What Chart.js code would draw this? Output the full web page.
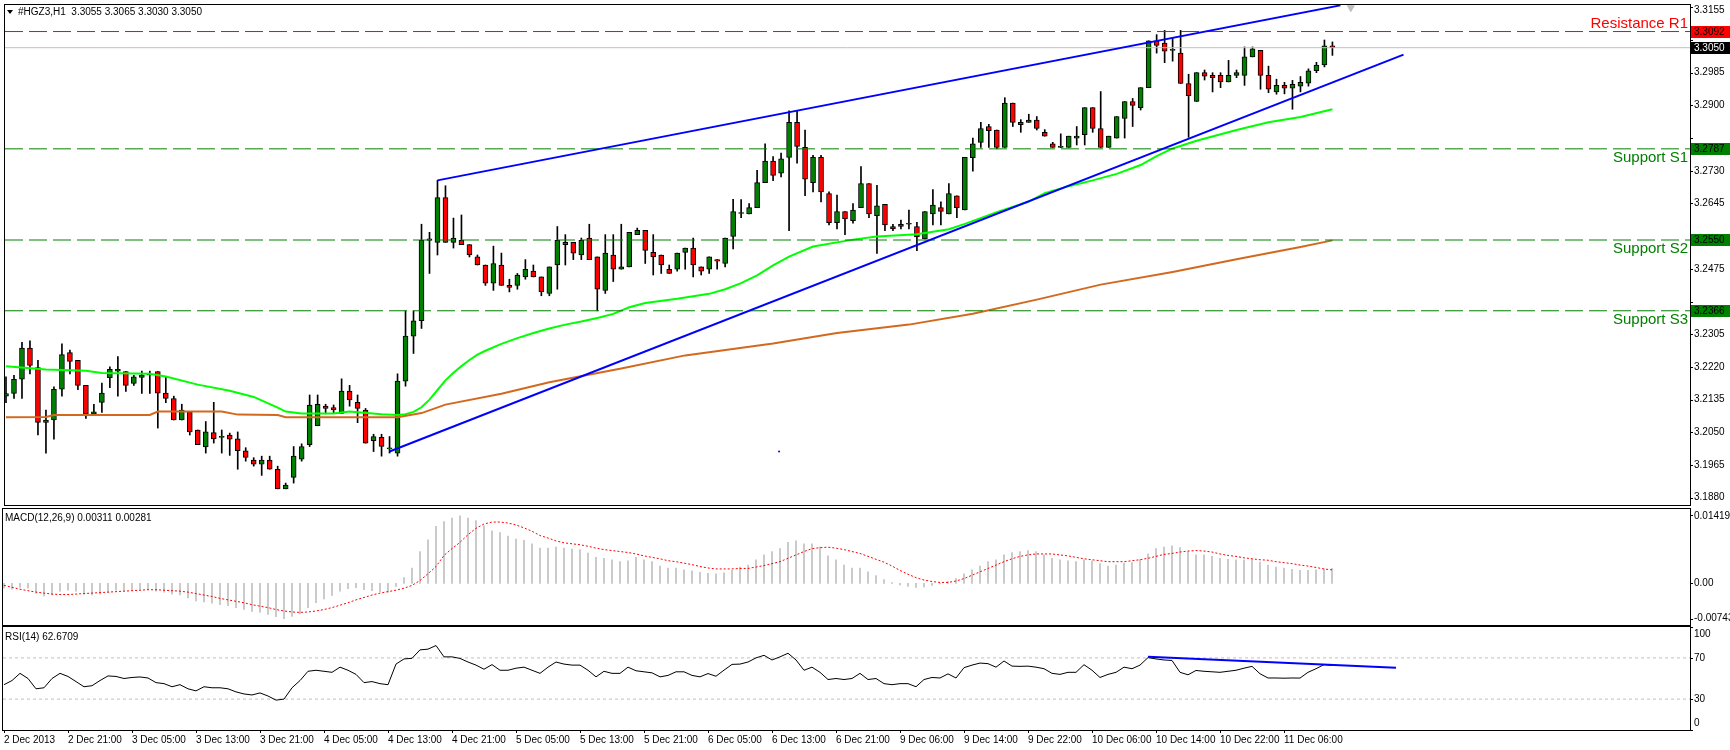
<!DOCTYPE html>
<html lang="en">
<head>
<meta charset="UTF-8">
<title>#HGZ3,H1</title>
<script src="https://cdn.jsdelivr.net/npm/chart.js@4.4.1/dist/chart.umd.min.js"></script>
<style>
  html, body { margin: 0; padding: 0; background: #fff; }
  #wrap { position: relative; width: 1730px; height: 750px; overflow: hidden; background: #fff; }
  canvas { position: absolute; left: 0; }
</style>
</head>
<body>
<div id="wrap">
  <canvas id="priceChart" width="1730" height="510" style="top:0"></canvas>
  <canvas id="macdChart" width="1730" height="120" style="top:507px"></canvas>
  <canvas id="rsiChart" width="1730" height="125" style="top:625px"></canvas>
</div>
<script>
// hourly bars of #HGZ3 (index 0 = 2 Dec 13:00)
const opens = [3.2144,3.2151,3.2188,3.2269,3.2218,3.2076,3.2082,3.2162,3.2257,3.2237,3.2172,3.2098,3.2128,3.2192,3.2209,3.2208,3.2177,3.2193,3.2199,3.2208,
  3.2152,3.2138,3.2082,3.2103,3.2056,3.2012,3.2049,3.2037,3.2043,3.2033,3.2002,3.1978,3.1967,3.1978,3.1954,3.1903,3.1933,3.1980,3.2018,3.2067,
  3.2118,3.2114,3.2099,3.2157,3.2128,3.2108,3.2028,3.2037,3.2007,3.1996,3.2183,3.2300,3.2340,3.2549,3.2544,3.2660,3.2544,3.2549,3.2538,3.2506,
  3.2485,3.2438,3.2485,3.2432,3.2432,3.2454,3.2469,3.2454,3.2411,3.2485,3.2544,3.2544,3.2511,3.2555,3.2506,3.2419,3.2511,3.2474,3.2480,3.2564,
  3.2575,3.2518,3.2511,3.2474,3.2474,3.2518,3.2529,3.2480,3.2474,3.2499,3.2489,3.2559,3.2619,3.2618,3.2634,3.2699,3.2755,3.2724,3.2765,3.2856,
  3.2791,3.2699,3.2765,3.2671,3.2595,3.2624,3.2600,3.2634,3.2697,3.2613,3.2643,3.2585,3.2585,3.2591,3.2585,3.2553,3.2618,3.2634,3.2618,3.2665,
  3.2628,3.2764,3.2804,3.2845,3.2836,3.2791,3.2906,3.2856,3.2856,3.2862,3.2830,3.2800,3.2791,3.2791,3.2815,3.2824,3.2894,3.2840,3.2791,3.2815,
  3.2866,3.2910,3.2894,3.2946,3.3068,3.3062,3.3043,3.3036,3.2957,3.2910,3.2985,3.2978,3.2978,3.2961,3.2978,3.2978,3.3026,3.3043,3.2978,3.2935,
  3.2952,3.2945,3.2950,3.2958,3.2990,3.3005,3.3055];
const highs = [3.2194,3.2198,3.2284,3.2288,3.2237,3.2108,3.2168,3.2280,3.2264,3.2237,3.2172,3.2123,3.2178,3.2220,3.2247,3.2208,3.2198,3.2209,3.2209,3.2208,
  3.2194,3.2144,3.2123,3.2103,3.2056,3.2078,3.2128,3.2056,3.2048,3.2051,3.2010,3.1984,3.1988,3.1988,3.1962,3.1918,3.2013,3.2020,3.2147,3.2147,
  3.2123,3.2121,3.2189,3.2172,3.2147,3.2112,3.2045,3.2045,3.2039,3.2202,3.2366,3.2366,3.2591,3.2570,3.2705,3.2691,3.2607,3.2615,3.2538,3.2511,
  3.2485,3.2534,3.2516,3.2448,3.2463,3.2499,3.2485,3.2454,3.2480,3.2585,3.2564,3.2544,3.2555,3.2591,3.2506,3.2564,3.2564,3.2591,3.2570,3.2581,
  3.2575,3.2564,3.2511,3.2485,3.2516,3.2529,3.2555,3.2480,3.2506,3.2499,3.2555,3.2656,3.2655,3.2645,3.2731,3.2800,3.2767,3.2776,3.2886,3.2886,
  3.2836,3.2770,3.2770,3.2675,3.2667,3.2624,3.2645,3.2741,3.2697,3.2692,3.2643,3.2591,3.2602,3.2628,3.2596,3.2624,3.2681,3.2649,3.2697,3.2665,
  3.2765,3.2815,3.2856,3.2851,3.2836,3.2920,3.2906,3.2863,3.2877,3.2871,3.2837,3.2804,3.2826,3.2820,3.2845,3.2894,3.2894,3.2936,3.2820,3.2871,
  3.2910,3.2918,3.2946,3.3068,3.3084,3.3095,3.3075,3.3095,3.2981,3.2985,3.2992,3.2985,3.2985,3.3017,3.2992,3.3052,3.3052,3.3043,3.3002,3.2968,
  3.2960,3.2965,3.2975,3.2995,3.3012,3.3070,3.3065];
const lows = [3.2127,3.2138,3.2138,3.2202,3.2043,3.1996,3.2032,3.2144,3.2202,3.2161,3.2086,3.2098,3.2102,3.2166,3.2144,3.2156,3.2172,3.2151,3.2151,3.2061,
  3.2127,3.2082,3.2082,3.2043,3.2018,3.1996,3.2022,3.1996,3.1990,3.1954,3.1975,3.1962,3.1938,3.1954,3.1903,3.1903,3.1918,3.1975,3.2013,3.2067,
  3.2098,3.2099,3.2099,3.2118,3.2075,3.2022,3.2000,3.1988,3.1996,3.1988,3.2170,3.2255,3.2320,3.2463,3.2511,3.2544,3.2529,3.2538,3.2506,3.2485,
  3.2432,3.2419,3.2432,3.2415,3.2422,3.2448,3.2454,3.2405,3.2405,3.2422,3.2485,3.2499,3.2499,3.2499,3.2366,3.2411,3.2442,3.2474,3.2480,3.2564,
  3.2489,3.2459,3.2463,3.2463,3.2469,3.2474,3.2454,3.2459,3.2463,3.2474,3.2480,3.2527,3.2608,3.2618,3.2634,3.2699,3.2704,3.2714,3.2574,3.2750,
  3.2665,3.2675,3.2649,3.2589,3.2579,3.2564,3.2594,3.2634,3.2608,3.2515,3.2574,3.2574,3.2579,3.2579,3.2522,3.2553,3.2589,3.2589,3.2618,3.2608,
  3.2628,3.2729,3.2791,3.2791,3.2787,3.2791,3.2845,3.2830,3.2856,3.2836,3.2820,3.2791,3.2790,3.2791,3.2797,3.2797,3.2830,3.2791,3.2791,3.2815,
  3.2815,3.2845,3.2888,3.2946,3.3036,3.3011,3.3015,3.2957,3.2817,3.2910,3.2966,3.2935,3.2946,3.2961,3.2972,3.2952,3.3026,3.2942,3.2933,3.2929,
  3.2930,3.2890,3.2935,3.2950,3.2985,3.3000,3.3030];
const closes = [3.2151,3.2188,3.2269,3.2224,3.2076,3.2082,3.2162,3.2252,3.2234,3.2172,3.2098,3.2103,3.2152,3.2214,3.2214,3.2172,3.2194,3.2199,3.2200,3.2152,
  3.2138,3.2082,3.2108,3.2051,3.2018,3.2051,3.2033,3.2038,3.2032,3.2002,3.1985,3.1967,3.1978,3.1954,3.1903,3.1913,3.1988,3.2013,3.2121,3.2123,
  3.2112,3.2108,3.2157,3.2134,3.2112,3.2022,3.2039,3.2013,3.2008,3.2183,3.2300,3.2340,3.2549,3.2553,3.2660,3.2544,3.2555,3.2538,3.2511,3.2485,
  3.2438,3.2489,3.2432,3.2427,3.2459,3.2474,3.2454,3.2415,3.2480,3.2549,3.2538,3.2516,3.2549,3.2499,3.2422,3.2516,3.2474,3.2480,3.2570,3.2575,
  3.2523,3.2506,3.2485,3.2463,3.2516,3.2529,3.2485,3.2469,3.2506,3.2495,3.2555,3.2624,3.2620,3.2634,3.2699,3.2755,3.2718,3.2761,3.2856,3.2793,
  3.2708,3.2765,3.2675,3.2595,3.2624,3.2605,3.2628,3.2697,3.2618,3.2639,3.2589,3.2579,3.2591,3.2592,3.2558,3.2624,3.2641,3.2624,3.2671,3.2634,
  3.2765,3.2800,3.2840,3.2834,3.2791,3.2906,3.2856,3.2850,3.2862,3.2840,3.2820,3.2791,3.2792,3.2820,3.2820,3.2894,3.2840,3.2791,3.2820,3.2871,
  3.2910,3.2900,3.2946,3.3068,3.3056,3.3041,3.3044,3.2957,3.2925,3.2985,3.2976,3.2972,3.2961,3.2978,3.2985,3.3026,3.3047,3.2978,3.2942,3.2952,
  3.2945,3.2955,3.2960,3.2990,3.3005,3.3055,3.3050];

// moving averages read at sampled bars: [bar, value]
const fastMA = [[0,3.2222],[5,3.2213],[10,3.2210],[12,3.2204],[18,3.2202],[20,3.2195],[24,3.2174],[28,3.2158],[31,3.2142],[34,3.2114],[35,3.2104],
  [37,3.2099],[41,3.2099],[43,3.2104],[47,3.2097],[49,3.2095],[50,3.2097],[51,3.2103],[52,3.2115],[53,3.2135],[54,3.2160],[55,3.2185],[56,3.2205],
  [57,3.2222],[58,3.2238],[59,3.2252],[60,3.2262],[62,3.2280],[64,3.2295],[66,3.2308],[68,3.2320],[70,3.2330],[72,3.2338],[74,3.2347],[76,3.2358],
  [78,3.2375],[80,3.2386],[84,3.2397],[88,3.2410],[90,3.2422],[92,3.2438],[94,3.2458],[96,3.2484],[98,3.2507],[101,3.2533],[106,3.2551],[109,3.2559],
  [114,3.2565],[118,3.2578],[120,3.2592],[124,3.2622],[128,3.2650],[130,3.2672],[133,3.2690],[136,3.2705],[139,3.2722],[142,3.2745],[144,3.2768],
  [146,3.2788],[149,3.2808],[154,3.2836],[158,3.2856],[162,3.2870],[166,3.2890]];
const slowMA = [[0,3.2089],[5,3.2090],[6,3.2095],[18,3.2095],[19,3.2104],[27,3.2104],[29,3.2096],[34,3.2095],[35,3.2089],[49,3.2089],[52,3.2100],
  [55,3.2122],[62,3.2150],[68,3.2180],[77,3.2216],[85,3.2250],[96,3.2281],[104,3.2308],[113,3.2330],[121,3.2358],[129,3.2395],[137,3.2434],
  [146,3.2467],[154,3.2500],[162,3.2532],[166,3.2549]];

// drawn objects
const upperTrend = [[54,3.2705],[167,3.3160]];
const lowerTrend = [[48,3.2000],[174.9,3.3032]];
const rsiTrend = [[143,71],[174,60.5]];
const strayDot = [[96.75,3.2000]];
const shiftMark = [[168.3,3.3154]];
const levels = [
  { name: 'Resistance R1', value: 3.3092, color: '#FF0000', above: true },
  { name: 'Support S1', value: 3.2787, color: '#008000', above: false },
  { name: 'Support S2', value: 3.2550, color: '#008000', above: false },
  { name: 'Support S3', value: 3.2366, color: '#008000', above: false }
];
const bidPrice = 3.3050;

// MACD(12,26,9)
const macdMain = [-0.0010,-0.0012,-0.0008,-0.0010,-0.0020,-0.0026,-0.0024,-0.0016,-0.0014,-0.0016,-0.0022,-0.0024,-0.0022,-0.0018,-0.0014,-0.0015,-0.0013,-0.0012,-0.0012,-0.0016,
  -0.0018,-0.0022,-0.0024,-0.0030,-0.0036,-0.0038,-0.0041,-0.0044,-0.0046,-0.0050,-0.0054,-0.0058,-0.0060,-0.0064,-0.0069,-0.0073,-0.0068,-0.0063,-0.0050,-0.0040,
  -0.0032,-0.0025,-0.0016,-0.0011,-0.0009,-0.0013,-0.0015,-0.0017,-0.0018,-0.0006,0.0012,0.0032,0.0066,0.0090,0.0118,0.0128,0.0135,0.0140,0.0135,0.0130,
  0.0119,0.0109,0.0105,0.0098,0.0092,0.0089,0.0082,0.0073,0.0073,0.0075,0.0073,0.0071,0.0070,0.0063,0.0054,0.0052,0.0049,0.0045,0.0047,0.0054,
  0.0049,0.0045,0.0036,0.0032,0.0032,0.0028,0.0026,0.0023,0.0021,0.0020,0.0022,0.0027,0.0034,0.0038,0.0049,0.0059,0.0066,0.0072,0.0085,0.0088,
  0.0082,0.0082,0.0075,0.0057,0.0049,0.0038,0.0032,0.0032,0.0024,0.0016,0.0008,0.0002,-0.0003,-0.0006,-0.0008,-0.0007,-0.0004,-0.0001,0.0004,0.0010,
  0.0020,0.0028,0.0036,0.0045,0.0049,0.0059,0.0064,0.0066,0.0068,0.0066,0.0059,0.0052,0.0049,0.0047,0.0045,0.0049,0.0047,0.0041,0.0036,0.0038,
  0.0042,0.0043,0.0049,0.0061,0.0072,0.0075,0.0078,0.0074,0.0066,0.0059,0.0059,0.0056,0.0052,0.0050,0.0049,0.0049,0.0050,0.0044,0.0038,0.0034,
  0.0032,0.0029,0.0027,0.0027,0.0028,0.0030,0.0031];
const macdSignal = [-0.0004,-0.0008,-0.0012,-0.0015,-0.0018,-0.0020,-0.0022,-0.0023,-0.0023,-0.0022,-0.0021,-0.0020,-0.0019,-0.0018,-0.0017,-0.0016,-0.0015,-0.0014,-0.0013,-0.0013,
  -0.0014,-0.0015,-0.0016,-0.0018,-0.0021,-0.0024,-0.0027,-0.0031,-0.0034,-0.0037,-0.0040,-0.0044,-0.0047,-0.0050,-0.0054,-0.0057,-0.0059,-0.0060,-0.0059,-0.0057,
  -0.0054,-0.0050,-0.0045,-0.0040,-0.0034,-0.0029,-0.0024,-0.0020,-0.0017,-0.0014,-0.0010,-0.0004,0.0006,0.0020,0.0035,0.0058,0.0072,0.0085,0.0101,0.0114,
  0.0123,0.0127,0.0127,0.0125,0.0121,0.0115,0.0108,0.0099,0.0094,0.0088,0.0084,0.0082,0.0080,0.0077,0.0073,0.0070,0.0068,0.0066,0.0064,0.0061,
  0.0057,0.0054,0.0051,0.0047,0.0045,0.0042,0.0039,0.0035,0.0032,0.0030,0.0030,0.0030,0.0031,0.0031,0.0034,0.0037,0.0041,0.0045,0.0052,0.0059,
  0.0066,0.0072,0.0074,0.0075,0.0073,0.0070,0.0066,0.0062,0.0056,0.0050,0.0044,0.0036,0.0027,0.0019,0.0012,0.0007,0.0004,0.0002,0.0002,0.0005,
  0.0010,0.0017,0.0024,0.0031,0.0038,0.0045,0.0051,0.0056,0.0059,0.0061,0.0061,0.0061,0.0059,0.0057,0.0054,0.0051,0.0049,0.0047,0.0045,0.0045,
  0.0045,0.0047,0.0049,0.0052,0.0056,0.0060,0.0062,0.0065,0.0067,0.0068,0.0067,0.0065,0.0061,0.0058,0.0056,0.0053,0.0051,0.0049,0.0048,0.0045,
  0.0043,0.0041,0.0038,0.0036,0.0033,0.0030,0.0028];

// RSI(14)
const rsiValues = [44,48,55,50,40,41,50,55,52,47,42,43,48,52.5,52,50,51,51.5,50.5,46,
  45,42,44,40,38,42,41,41,40,37,35,34,36,33,29,30,41,48,57,58,
  57,56,61,58,54,46,47,45,44,64,69,69.6,77.8,78.5,82,71,71,69.5,66,63,
  59,63.5,58,58,60,61,58,55,61,66,64,63,63,58,51.6,57,55,55,61,57.5,
  56.5,55.5,51.6,53,56.5,56.5,53,51.6,54.8,52.2,58.1,63.7,64,66,70,72.5,68,71,74.5,68,
  58,61,56,49,50,49,50,55,49,50,45,44,45,45,42,49,51,50.5,54.5,50.5,
  60.5,63,65,64.4,61,67,62,61.8,62,61,59.5,55,54,56,56,63.4,58,51,54,56,
  61,59.5,63,70.3,69,68,67.5,56,53.6,57.8,57,56.5,56,57,58,60,61.8,54.6,50.5,50.5,
  50.3,50.5,50.4,56,59.5,63.5,62.67];

// axis labels
const priceTicks = [3.3155,3.3070,3.2985,3.2900,3.2815,3.2730,3.2645,3.2560,3.2475,3.2390,3.2305,3.2220,3.2135,3.2050,3.1965,3.1880];
const macdTicks = [0.01419, 0, -0.00743];
const macdTickText = ['0.01419', '0.00', '-0.00743'];
const rsiTicks = [100, 70, 30, 0];
const dateBars = [0,8,16,24,32,40,48,56,64,72,80,88,96,104,112,120,128,136,144,152,160];
const dateLabels = ['2 Dec 2013','2 Dec 21:00','3 Dec 05:00','3 Dec 13:00','3 Dec 21:00','4 Dec 05:00','4 Dec 13:00','4 Dec 21:00',
  '5 Dec 05:00','5 Dec 13:00','5 Dec 21:00','6 Dec 05:00','6 Dec 13:00','6 Dec 21:00','9 Dec 06:00','9 Dec 14:00','9 Dec 22:00',
  '10 Dec 06:00','10 Dec 14:00','10 Dec 22:00','11 Dec 06:00'];

const X_MIN = -0.125, X_MAX = 210.75;
const SMALL = '10px "Liberation Sans", Arial, sans-serif';

// frame, right-hand price scale, boxed prices and captions (MT4 look)
const mtPanel = {
  id: 'mtPanel',
  afterDatasetsDraw(chart, args, o) {
    const { ctx, chartArea: a } = chart;
    const y = chart.scales.y;
    ctx.save();
    ctx.strokeStyle = '#000';
    ctx.lineWidth = 1;
    ctx.strokeRect(a.left - 0.5, a.top - 0.5, a.right - a.left + 1, a.bottom - a.top + 1);
    ctx.font = SMALL;
    ctx.textBaseline = 'middle';
    ctx.textAlign = 'left';
    const m = o.margin || 6;
    const boxes = o.boxes || [];
    const boxY = boxes.map(b => y.getPixelForValue(b.value));
    (o.ticks || []).forEach(t => {
      const py = y.getPixelForValue(t.value);
      ctx.fillStyle = '#000';
      ctx.fillRect(a.right, Math.round(py), 3, 1);
      // a boxed price hides the scale label under it
      if (boxY.some(by => Math.abs(by - py) < 11)) return;
      ctx.fillText(t.text, a.right + 4, Math.min(Math.max(py, a.top + m), a.bottom - m));
    });
    boxes.forEach((b, i) => {
      const py = Math.round(boxY[i]);
      ctx.fillStyle = b.bg;
      ctx.fillRect(a.right + 1, py - 6, 39, 12);
      ctx.fillStyle = b.fg;
      ctx.fillText(b.text, a.right + 4, py);
    });
    (o.captions || []).forEach(c => {
      ctx.font = '15px "Liberation Sans", Arial, sans-serif';
      ctx.textAlign = 'right';
      ctx.fillStyle = c.color;
      const py = y.getPixelForValue(c.value) + (c.above ? -8 : 9);
      ctx.fillText(c.text, a.right - 2, py);
    });
    if (o.title) {
      ctx.font = SMALL;
      ctx.textAlign = 'left';
      ctx.fillStyle = '#000';
      if (o.arrow) {
        ctx.beginPath();
        ctx.moveTo(7, o.title.y - 2); ctx.lineTo(13, o.title.y - 2); ctx.lineTo(10, o.title.y + 2);
        ctx.closePath(); ctx.fill();
      }
      ctx.fillText(o.title.text, o.title.x, o.title.y);
    }
    ctx.restore();
  }
};

const pts = arr => arr.map(p => ({ x: p[0], y: p[1] }));
const flat = v => [{ x: X_MIN, y: v }, { x: X_MAX, y: v }];
const baseOpts = (padding, yMin, yMax, panel) => ({
  responsive: false,
  animation: false,
  devicePixelRatio: 1,
  events: [],
  layout: { padding },
  plugins: { legend: { display: false }, tooltip: { enabled: false }, mtPanel: panel },
  scales: {
    x: { type: 'linear', min: X_MIN, max: X_MAX, display: false, offset: false },
    y: { type: 'linear', min: yMin, max: yMax, display: false }
  }
});
const lineSet = (data, color, width, dash, order) => ({
  type: 'line', data, borderColor: color, borderWidth: width, borderDash: dash || [],
  pointRadius: 0, tension: 0, order: order || 0
});

// ---- price panel ----
const bars = opens.map((o, i) => i);
const priceDatasets = [
  { type: 'bar', data: bars.map(i => ({ x: i, y: [lows[i], highs[i]] })), backgroundColor: '#000',
    barThickness: 1, grouped: false, order: 4 },
  { type: 'bar', data: bars.map(i => ({ x: i, y: [opens[i], closes[i]] })),
    backgroundColor: bars.map(i => closes[i] >= opens[i] ? '#008000' : '#FF0000'),
    borderColor: '#000', borderWidth: 1, borderSkipped: false, minBarLength: 1,
    barThickness: 5, grouped: false, order: 3 },
  lineSet(pts(slowMA), '#D2691E', 2, null, 2),
  lineSet(pts(fastMA), '#00FF00', 2, null, 2),
  lineSet(flat(bidPrice), '#C0C0C0', 1, null, 1),
  ...levels.map(l => lineSet(flat(l.value), l.color, 1, [18, 6], 1)),
  lineSet(pts(upperTrend), '#0000FF', 2),
  lineSet(pts(lowerTrend), '#0000FF', 2),
  { type: 'line', data: pts(strayDot), showLine: false, pointRadius: 1, pointBackgroundColor: '#0000FF',
    pointBorderWidth: 0, order: 0 },
  { type: 'line', data: pts(shiftMark), showLine: false, pointStyle: 'triangle', rotation: 180, pointRadius: 4,
    pointBackgroundColor: '#C0C0C0', pointBorderColor: '#C0C0C0', order: 0, clip: false }
];
new Chart(document.getElementById('priceChart'), {
  type: 'bar',
  data: { datasets: priceDatasets },
  options: baseOpts({ left: 3, right: 40, top: 3, bottom: 3 }, 3.1861, 3.3161, {
    margin: 5,
    ticks: priceTicks.map(v => ({ value: v, text: v.toFixed(4) })),
    boxes: [
      { value: levels[0].value, text: levels[0].value.toFixed(4), bg: '#FF0000', fg: '#000' },
      { value: bidPrice, text: bidPrice.toFixed(4), bg: '#000', fg: '#fff' },
      ...levels.slice(1).map(l => ({ value: l.value, text: l.value.toFixed(4), bg: '#008000', fg: '#000' }))
    ],
    captions: levels.map(l => ({ text: l.name, value: l.value, color: l.color, above: l.above })),
    arrow: true,
    title: { text: '#HGZ3,H1  3.3055 3.3065 3.3030 3.3050', x: 18, y: 12 }
  }),
  plugins: [mtPanel]
});

// ---- MACD panel ----
new Chart(document.getElementById('macdChart'), {
  type: 'bar',
  data: { datasets: [
    { type: 'bar', data: macdMain.map((v, i) => ({ x: i, y: v })), backgroundColor: '#C0C0C0',
      barThickness: 1, grouped: false, order: 2 },
    lineSet(macdSignal.map((v, i) => ({ x: i, y: v })), '#FF0000', 1, [2, 2], 1)
  ] },
  options: baseOpts({ left: 3, right: 40, top: 2, bottom: 2 }, -0.0086, 0.0154, {
    margin: 7,
    ticks: macdTicks.map((v, i) => ({ value: v, text: macdTickText[i] })),
    title: { text: 'MACD(12,26,9) 0.00311 0.00281', x: 5, y: 11 }
  }),
  plugins: [mtPanel]
});

// ---- RSI panel ----
const rsiOpts = baseOpts({ left: 3, right: 40, top: 2, bottom: 2 }, 0, 100, {
  margin: 7,
  ticks: rsiTicks.map(v => ({ value: v, text: String(v) })),
  title: { text: 'RSI(14) 62.6709', x: 5, y: 12 }
});
rsiOpts.scales.x = {
  type: 'linear', min: X_MIN, max: X_MAX, offset: false, position: 'bottom',
  border: { display: false },
  grid: { drawOnChartArea: false, tickLength: 3, color: '#000' },
  afterBuildTicks: s => { s.ticks = dateBars.map(v => ({ value: v })); },
  afterFit: s => { s.height = 18; },
  ticks: { autoSkip: false, maxRotation: 0, align: 'start', padding: 1, color: '#000',
    font: { family: '"Liberation Sans", Arial, sans-serif', size: 10 },
    callback: (v, i) => dateLabels[i] }
};
new Chart(document.getElementById('rsiChart'), {
  type: 'line',
  data: { datasets: [
    lineSet(flat(70), '#C0C0C0', 1, [3, 3], 2),
    lineSet(flat(30), '#C0C0C0', 1, [3, 3], 2),
    lineSet(rsiValues.map((v, i) => ({ x: i, y: v })), '#000', 1, null, 1),
    lineSet(pts(rsiTrend), '#0000FF', 2, null, 0)
  ] },
  options: rsiOpts,
  plugins: [mtPanel]
});
</script>
</body>
</html>
